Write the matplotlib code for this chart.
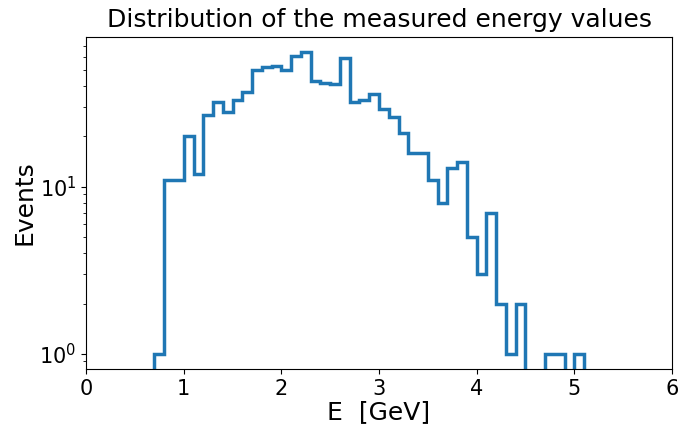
import numpy as np
import matplotlib
matplotlib.use("Agg")
import matplotlib.pyplot as plt

# bin edges (GeV) and counts
bin_edges = [0.7, 0.8, 0.9, 1.0, 1.1, 1.2, 1.3, 1.4, 1.5, 1.6, 1.7, 1.8, 1.9,
             2.0, 2.1, 2.2, 2.3, 2.4, 2.5, 2.6, 2.7, 2.8, 2.9, 3.0, 3.1, 3.2,
             3.3, 3.4, 3.5, 3.6, 3.7, 3.8, 3.9, 4.0, 4.1, 4.2, 4.3, 4.4, 4.5,
             4.6, 4.7, 4.8, 4.9, 5.0, 5.1]
counts = [1, 11, 11, 20, 12, 27, 32, 28, 33, 37, 50, 52, 53,
          50, 61, 64, 43, 42, 41, 59, 32, 33, 36, 29, 26, 21,
          16, 16, 11, 8, 13, 14, 5, 3, 7, 2, 1, 2,
          0, 0, 1, 1, 0, 1]

edges = np.array(bin_edges)
centers = 0.5 * (edges[:-1] + edges[1:])

fig = plt.figure(figsize=(6.78, 4.25), dpi=100)
ax = fig.add_subplot(111)
ax.hist(centers, bins=edges, weights=counts, histtype="step", linewidth=2.5,
        color="#1f77b4")
ax.set_yscale("log")
ax.set_xlim(0, 6)
ax.set_title("Distribution of the measured energy values", fontsize=18, pad=7)
ax.set_xlabel("E  [GeV]", fontsize=18, labelpad=1)
ax.set_ylabel("Events", fontsize=18, labelpad=2)
ax.tick_params(labelsize=15)

plt.subplots_adjust(left=0.127, right=0.991, bottom=0.132, top=0.913)
plt.savefig("out.png", dpi=100)
